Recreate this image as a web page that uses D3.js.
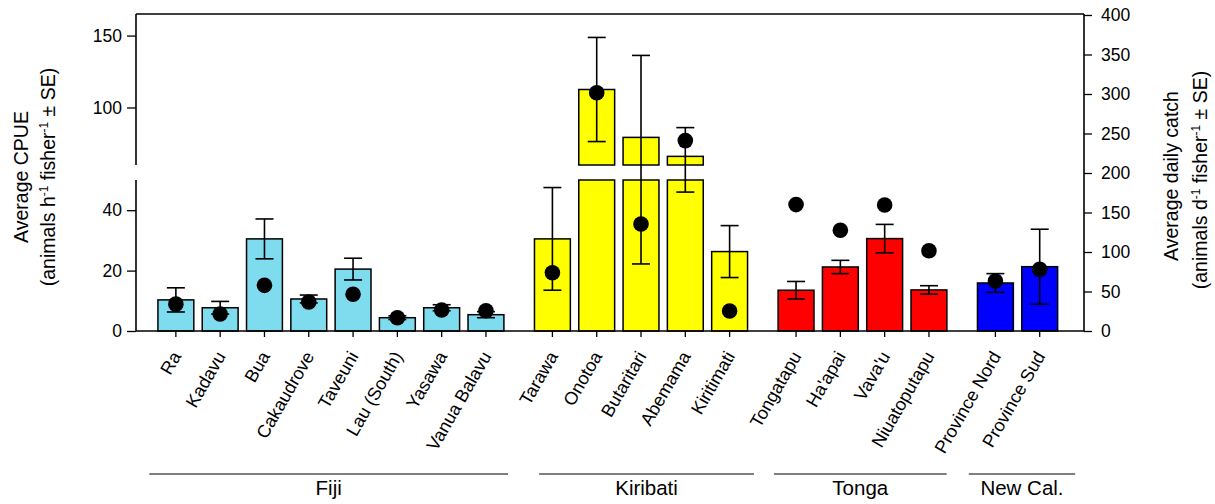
<!DOCTYPE html>
<html>
<head>
<meta charset="utf-8">
<script src="https://cdn.jsdelivr.net/npm/d3@7"></script>
<style>
  html, body { margin: 0; padding: 0; background: #fff; }
  svg { display: block; font-family: "Liberation Sans", Arial, sans-serif; }
</style>
</head>
<body>
<svg id="chart" width="1215" height="504"></svg>
<script>
// ---------- data ----------
const categories = ["Ra","Kadavu","Bua","Cakaudrove","Taveuni","Lau (South)","Yasawa","Vanua Balavu",
  "Tarawa","Onotoa","Butaritari","Abemama","Kiritimati",
  "Tongatapu","Ha'apai","Vava'u","Niuatoputapu",
  "Province Nord","Province Sud"];
const groupOf = ["Fiji","Fiji","Fiji","Fiji","Fiji","Fiji","Fiji","Fiji",
  "Kiribati","Kiribati","Kiribati","Kiribati","Kiribati",
  "Tonga","Tonga","Tonga","Tonga",
  "New Cal.","New Cal."];
const groupNames = ["Fiji","Kiribati","Tonga","New Cal."];
const cpue   = [10.3, 7.7, 30.5, 10.6, 20.5, 4.4, 7.7, 5.4, 30.5, 112.5, 79.2, 66, 26.3, 13.5, 21.2, 30.6, 13.6, 15.9, 21.3];
const cpueSE = [4.0, 2.1, 6.6, 1.3, 3.6, 0.6, 1.0, 1.0, 17.0, 36.2, 57.0, 20.0, 8.6, 2.9, 2.2, 4.7, 1.4, 3.1, 12.4];
const dailyCatch = [34, 21.5, 57.8, 36.7, 46.5, 16.8, 26.6, 25.7, 73.8, 301.6, 135.4, 241, 25.3, 160, 127.5, 159.5, 101.6, 63.3, 78];
const leftLowTicks = [0, 20, 40];
const leftHighTicks = [100, 150];
const rightTicks = [0, 50, 100, 150, 200, 250, 300, 350, 400];
const groupColors = {"Fiji": "#7fdcef", "Kiribati": "#ffff00", "Tonga": "#ff0000", "New Cal.": "#0000ff"};

// ---------- layout ----------
const L = 136, R = 1084, T = 14, B = 331;
const breakTop = 165, breakBot = 180;
const svg = d3.select("#chart");

// position index with half-slot gaps between groups
const pos = categories.map((c, i) => i + 0.5 * groupNames.indexOf(groupOf[i]));
const x = d3.scaleLinear().domain([-0.9, 20.5]).range([L, R]);
const slot = x(1) - x(0);
const barW = slot * 0.81;

const yLow = d3.scaleLinear().domain([0, 50]).range([B, breakBot]);
const yHigh = d3.scaleLinear().domain([60, 165]).range([breakTop, T]);
const yGap = d3.scaleLinear().domain([50, 60]).range([breakBot, breakTop]);
const yL = v => v <= 50 ? yLow(v) : (v >= 60 ? yHigh(v) : yGap(v));
const yR = d3.scaleLinear().domain([0, 400]).range([B, T + 1]);

// ---------- bars ----------
const gBars = svg.append("g");
categories.forEach((c, i) => {
  const v = cpue[i], cx = x(pos[i]);
  const fill = groupColors[groupOf[i]];
  const top = Math.min(v, 50);
  gBars.append("rect")
    .attr("x", cx - barW / 2).attr("width", barW)
    .attr("y", yLow(top)).attr("height", yLow(0) - yLow(top))
    .attr("fill", fill).attr("stroke", "#000").attr("stroke-width", 1.5);
  if (v > 60) {
    gBars.append("rect")
      .attr("x", cx - barW / 2).attr("width", barW)
      .attr("y", yHigh(v)).attr("height", yHigh(60) - yHigh(v))
      .attr("fill", fill).attr("stroke", "#000").attr("stroke-width", 1.5);
  }
});

// ---------- error bars ----------
const gErr = svg.append("g").attr("stroke", "#000").attr("stroke-width", 1.6);
categories.forEach((c, i) => {
  const cx = x(pos[i]);
  const lo = Math.max(0, cpue[i] - cpueSE[i]), hi = cpue[i] + cpueSE[i];
  gErr.append("line").attr("x1", cx).attr("x2", cx).attr("y1", yL(lo)).attr("y2", yL(hi));
  gErr.append("line").attr("x1", cx - 9).attr("x2", cx + 9).attr("y1", yL(hi)).attr("y2", yL(hi));
  gErr.append("line").attr("x1", cx - 9).attr("x2", cx + 9).attr("y1", yL(lo)).attr("y2", yL(lo));
});

// ---------- points ----------
svg.append("g").selectAll("circle").data(dailyCatch).join("circle")
  .attr("cx", (d, i) => x(pos[i])).attr("cy", d => yR(d)).attr("r", 7.8).attr("fill", "#000");

// ---------- axes ----------
const axisStyle = g => {
  g.selectAll("path.domain").remove();
  g.selectAll("line").attr("stroke", "#000").attr("stroke-width", 1.3);
  g.selectAll("text").attr("font-size", 17.5).attr("fill", "#000").attr("font-family", "Liberation Sans, Arial, sans-serif");
};
svg.append("g").attr("transform", `translate(${L},0)`)
  .call(d3.axisLeft(yLow).tickValues(leftLowTicks).tickSize(9).tickPadding(5)).call(axisStyle);
svg.append("g").attr("transform", `translate(${L},0)`)
  .call(d3.axisLeft(yHigh).tickValues(leftHighTicks).tickSize(9).tickPadding(5)).call(axisStyle);
svg.append("g").attr("transform", `translate(${R},0)`)
  .call(d3.axisRight(yR).tickValues(rightTicks).tickSize(8).tickPadding(9)).call(axisStyle);

// frame lines
const frame = svg.append("g").attr("stroke", "#000").attr("stroke-width", 1.6);
frame.append("line").attr("x1", L).attr("x2", L).attr("y1", T).attr("y2", breakTop);
frame.append("line").attr("x1", L).attr("x2", L).attr("y1", breakBot).attr("y2", B);
frame.append("line").attr("x1", L).attr("x2", R).attr("y1", T).attr("y2", T);
frame.append("line").attr("x1", R).attr("x2", R).attr("y1", T).attr("y2", B);
frame.append("line").attr("x1", L).attr("x2", R).attr("y1", B).attr("y2", B);

// bottom ticks + labels
const gX = svg.append("g");
categories.forEach((c, i) => {
  const cx = x(pos[i]);
  gX.append("line").attr("x1", cx).attr("x2", cx).attr("y1", B).attr("y2", B + 6)
    .attr("stroke", "#000").attr("stroke-width", 1.3);
  gX.append("text")
    .attr("transform", `translate(${cx + 6},${B + 25}) rotate(-60)`)
    .attr("text-anchor", "end").attr("font-size", 18).text(c);
});

// group lines and labels
const groupSpan = {"Fiji": [-0.6, 7.5], "Kiribati": [8.2, 13.05], "Tonga": [13.5, 17.4], "New Cal.": [17.9, 20.3]};
groupNames.forEach(g => {
  const [a, b] = groupSpan[g];
  svg.append("line").attr("x1", x(a)).attr("x2", x(b)).attr("y1", 474).attr("y2", 474)
    .attr("stroke", "#000").attr("stroke-width", 1.2);
  svg.append("text").attr("x", (x(a) + x(b)) / 2).attr("y", 495)
    .attr("text-anchor", "middle").attr("font-size", 20.5).text(g);
});

// axis titles
function title(xp, yp, parts) {
  const t = svg.append("text").attr("transform", `translate(${xp},${yp}) rotate(-90)`)
    .attr("text-anchor", "middle").attr("font-size", 19.5);
  parts.forEach(p => {
    if (p.sup) {
      t.append("tspan").attr("baseline-shift", "super").attr("font-size", 12).text(p.t);
    } else {
      t.append("tspan").text(p.t);
    }
  });
}
title(28, 177, [{t: "Average CPUE"}]);
title(55, 177, [{t: "(animals h"}, {t: "-1", sup: true}, {t: " fisher"}, {t: "-1", sup: true}, {t: " ± SE)"}]);
title(1178, 176, [{t: "Average daily catch"}]);
title(1207, 180, [{t: "(animals d"}, {t: "-1", sup: true}, {t: " fisher"}, {t: "-1", sup: true}, {t: " ± SE)"}]);
</script>
</body>
</html>
